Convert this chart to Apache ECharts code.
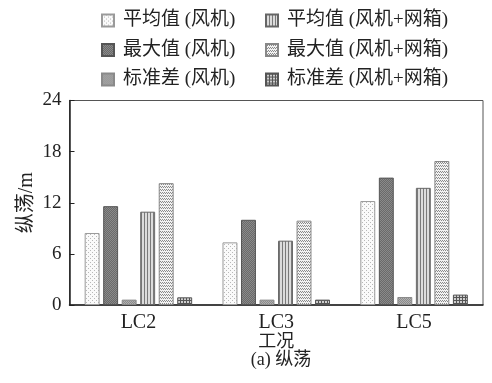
<!DOCTYPE html>
<html>
<head>
<meta charset="utf-8">
<script src="https://cdn.jsdelivr.net/npm/echarts@6/dist/echarts.min.js"></script>
<style>
  html, body { margin: 0; padding: 0; background: #fff; }
  #chart { width: 492px; height: 383px; }
</style>
</head>
<body>
<div id="chart"></div>
<script>
const categories = ['LC2', 'LC3', 'LC5']
const seriesNames = ['平均值 (风机)', '最大值 (风机)', '标准差 (风机)', '平均值 (风机+网箱)', '最大值 (风机+网箱)', '标准差 (风机+网箱)']
const meanFan = [8.45, 7.35, 12.2]
const maxFan = [11.6, 10.0, 14.95]
const stdFan = [0.63, 0.63, 0.94]
const meanFanCage = [10.95, 7.55, 13.75]
const maxFanCage = [14.3, 9.9, 16.9]
const stdFanCage = [0.9, 0.63, 1.22]
const yTicks = [0, 6, 12, 18, 24]

const FONT = '"Liberation Serif", "Noto Sans CJK SC", serif'

// 小画布做填充纹理
const makePattern = (w, h, bg, draw) => {
    const c = document.createElement('canvas')
    c.width = w
    c.height = h
    const ctx = c.getContext('2d')
    ctx.fillStyle = bg
    ctx.fillRect(0, 0, w, h)
    draw(ctx)
    return { image: c, repeat: 'repeat' }
}
const dot = (ctx, color, pts) => {
    ctx.fillStyle = color
    pts.forEach(p => ctx.fillRect(p[0], p[1], 1, 1))
}

const patterns = [
    makePattern(4, 4, '#fafafa', ctx => dot(ctx, '#b8b8b8', [[0, 0], [2, 2]])),
    makePattern(2, 2, '#6a6a6a', ctx => dot(ctx, '#8a8a8a', [[0, 0], [1, 1]])),
    makePattern(2, 2, '#b0b0b0', ctx => dot(ctx, '#8c8c8c', [[0, 0], [1, 1]])),
    makePattern(3, 1, '#dcdcdc', ctx => dot(ctx, '#7a7a7a', [[0, 0]])),
    makePattern(4, 3, '#f2f2f2', ctx => {
        dot(ctx, '#8a8a8a', [[0, 0], [2, 0], [1, 1], [3, 1]])
    }),
    makePattern(3, 3, '#cfcfcf', ctx => {
        ctx.fillStyle = '#555'
        ctx.fillRect(0, 0, 3, 1)
        ctx.fillRect(0, 0, 1, 3)
    }),
]
const borders = ['#9a9a9a', '#555', '#8a8a8a', '#666', '#888', '#555']
const values = [meanFan, maxFan, stdFan, meanFanCage, maxFanCage, stdFanCage]

const myChart = echarts.init(document.getElementById('chart'))
const legendBase = {
    orient: 'vertical',
    top: 6,
    itemWidth: 12,
    itemHeight: 12,
    itemGap: 10.5,
    icon: 'rect',
    textStyle: { fontFamily: FONT, fontSize: 19, color: '#222', padding: [0, 0, 0, 4] },
}
const option = {
    backgroundColor: '#fff',
    animation: false,
    title: {
        text: '(a) 纵荡',
        left: 276,
        textAlign: 'center',
        top: 346,
        textStyle: { fontFamily: FONT, fontSize: 18, fontWeight: 'normal', color: '#222' },
    },
    legend: [
        { ...legendBase, left: 96, data: seriesNames.slice(0, 3) },
        { ...legendBase, left: 260, data: seriesNames.slice(3) },
    ],
    grid: {
        left: 69.5,
        right: 9,
        top: 100.5,
        bottom: 78,
        show: true,
        borderColor: '#555',
        borderWidth: 1,
    },
    xAxis: {
        type: 'category',
        data: categories,
        name: '工况',
        nameLocation: 'middle',
        nameGap: 28,
        nameMoveOverlap: false,
        nameTextStyle: { fontFamily: FONT, fontSize: 18, color: '#222' },
        axisLine: { lineStyle: { color: '#222', width: 1.5 } },
        axisTick: { inside: true, length: 5, lineStyle: { color: '#222' } },
        axisLabel: { fontFamily: FONT, fontSize: 20, color: '#222', margin: 8 },
    },
    yAxis: {
        type: 'value',
        min: yTicks[0],
        max: yTicks[yTicks.length - 1],
        interval: 6,
        name: '纵荡/m',
        nameLocation: 'middle',
        nameGap: 33,
        nameMoveOverlap: false,
        nameTextStyle: { fontFamily: FONT, fontSize: 20, color: '#222' },
        axisLine: { show: true, lineStyle: { color: '#222', width: 1.5 } },
        axisTick: { show: true, inside: true, length: 5, lineStyle: { color: '#222' } },
        axisLabel: { fontFamily: FONT, fontSize: 19, color: '#222', margin: 8 },
        splitLine: { show: false },
    },
    series: seriesNames.map((name, i) => ({
        name,
        type: 'bar',
        barCategoryGap: '22%',
        barGap: '24%',
        data: values[i],
        itemStyle: { color: patterns[i], borderColor: borders[i], borderWidth: 1 },
    })),
}
myChart.setOption(option)
</script>
</body>
</html>
